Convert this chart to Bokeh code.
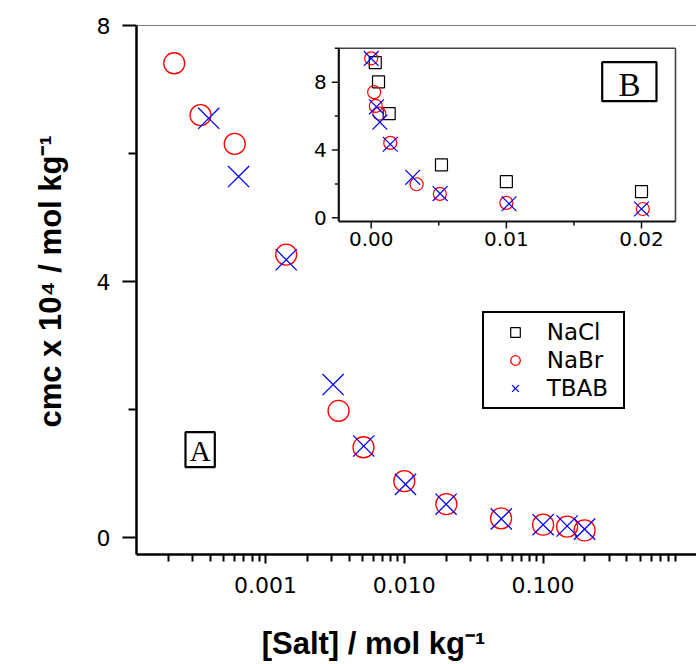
from bokeh.plotting import figure
from bokeh.models import (Range1d, LinearScale, FixedTicker, PrintfTickFormatter,
                          Span, Legend, LegendItem)
from bokeh.embed import file_html
from bokeh.resources import INLINE

# ---------------- data ----------------
nabr_x = [0.0, 0.00022, 0.00034, 0.00060, 0.00141, 0.00336, 0.00508, 0.0100, 0.0201, 0.0498, 0.100, 0.149, 0.199]
nabr_y = [9.41, 7.41, 6.60, 6.15, 4.42, 1.98, 1.41, 0.88, 0.52, 0.30, 0.20, 0.17, 0.11]

tbab_x = [0.0, 0.00039, 0.00064, 0.00141, 0.00307, 0.0051, 0.0102, 0.0200, 0.0500, 0.100, 0.149, 0.199]
tbab_y = [9.40, 6.55, 5.64, 4.34, 2.39, 1.43, 0.83, 0.52, 0.29, 0.20, 0.18, 0.13]

nacl_x = [0.0003, 0.00054, 0.00133, 0.0052, 0.0100, 0.0200]
nacl_y = [9.15, 8.02, 6.15, 3.12, 2.13, 1.55]

main_xticks = [0.001, 0.01, 0.1]
main_yticks = [0, 4, 8]
main_yminor = [2, 6]
inset_xticks = [0.0, 0.01, 0.02]
inset_xlabels = ["0.00", "0.01", "0.02"]
inset_xminor = [0.005, 0.015]
inset_yticks = [0, 4, 8]
inset_yminor = [2, 6, 10]

NB = "\u00a0"
x_title = "[Salt] / mol kg\u207b\u00b9" + NB * 10
y_title = NB * 2 + "cmc x 10\u2074 / mol kg\u207b\u00b9"

# ---------------- geometry (page pixels) ----------------
W, H = 696, 664
FL, FR, FT, FB = 136.0, 696.0, 25.0, 554.0      # main frame
DEC = 138.8                                     # px per decade
X001 = 265.0                                    # px of 0.001
Y0, PPU = 537.0, 64.0                           # y=0 px, px per unit

lx0 = -3 - (X001 - FL) / DEC
x_start = 10 ** lx0
x_end = 10 ** (lx0 + (FR - FL) / DEC)
y_start = -(FB - Y0) / PPU
y_end = (Y0 - FT) / PPU

# inset box
IL, IR, IT, IB = 338.3, 675.0, 47.7, 221.0
IX0, IPX = 370.7, 13515.0      # px of x=0, px per unit
IY0, IPY = 217.3, 16.95        # px of y=0, px per unit
ix_s = (FL - IX0) / IPX
ix_e = (FR - IX0) / IPX
iy_s = (IY0 - FB) / IPY
iy_e = (IY0 - FT) / IPY
in_l = (IL - IX0) / IPX
in_r = (IR - IX0) / IPX
in_t = (IY0 - IT) / IPY
in_b = (IY0 - IB) / IPY

p = figure(width=W, height=H, x_axis_type="log",
           x_range=Range1d(x_start, x_end), y_range=Range1d(y_start, y_end),
           output_backend="svg", toolbar_location=None,
           min_border_left=int(FL), min_border_right=0,
           min_border_top=int(FT), min_border_bottom=int(H - FB))
p.outline_line_color = None
p.xgrid.grid_line_color = None
p.ygrid.grid_line_color = None
p.background_fill_color = "white"
p.border_fill_color = "white"

p.extra_x_ranges = {"ix": Range1d(ix_s, ix_e), "px": Range1d(FL, FR)}
p.extra_x_scales = {"ix": LinearScale(), "px": LinearScale()}
p.extra_y_ranges = {"iy": Range1d(iy_s, iy_e), "py": Range1d(FB, FT)}

# main axes
p.xaxis.ticker = FixedTicker(ticks=main_xticks,
                             minor_ticks=[k * 10.0 ** e for e in range(-4, 1) for k in range(2, 10)])
p.xaxis.formatter = PrintfTickFormatter(format="%.3f")
p.yaxis.ticker = FixedTicker(ticks=main_yticks, minor_ticks=main_yminor)
for ax in (p.xaxis[0], p.yaxis[0]):
    ax.axis_line_width = 2.5
    ax.axis_line_color = "black"
    ax.major_tick_line_width = 2
    ax.minor_tick_line_width = 2
    ax.major_tick_line_color = "black"
    ax.minor_tick_line_color = "black"
    ax.major_tick_in = 0
    ax.minor_tick_in = 0
    ax.major_label_text_font = "DejaVu Sans"
    ax.major_label_text_color = "black"
    ax.axis_label_text_font = "Liberation Sans"
    ax.axis_label_text_font_style = "bold"
    ax.axis_label_text_color = "black"
    ax.axis_label_text_font_size = "31px"
p.xaxis.major_tick_out = 9
p.xaxis.minor_tick_out = 7
p.xaxis.major_label_standoff = 13
p.xaxis.major_label_text_font_size = "22px"
p.xaxis.axis_label = x_title
p.xaxis.axis_label_standoff = 30
p.yaxis.major_tick_out = 14
p.yaxis.minor_tick_out = 8
p.yaxis.major_label_standoff = 12
p.yaxis.major_label_text_font_size = "22px"
p.yaxis.axis_label = y_title
p.yaxis.axis_label_standoff = 26

p.add_layout(Span(location=y_end, dimension="width", line_color="black", line_width=1))

# main data (positive concentrations only on the log axis)
mb = [(x, y) for x, y in zip(nabr_x, nabr_y) if x > 0]
mt = [(x, y) for x, y in zip(tbab_x, tbab_y) if x > 0]
r_nabr = p.scatter([a for a, b in mb], [b for a, b in mb], marker="circle", size=21,
                   fill_color=None, line_color="#ff0000", line_width=1.3)
r_tbab = p.scatter([a for a, b in mt], [b for a, b in mt], marker="x", size=30,
                   line_color="#0000ff", line_width=1.3)

# ---------------- inset ----------------
kw = dict(x_range_name="ix", y_range_name="iy")
p.quad(left=[in_l], right=[in_r], top=[in_t], bottom=[in_b], fill_color="white",
       line_color=None, **kw)
dxp = 1.0 / IPX
dyp = 1.0 / IPY
p.segment(x0=[in_l, in_r], y0=[in_t, in_t], x1=[in_r, in_r], y1=[in_t, in_b],
          line_color="#444444", line_width=1.6, **kw)
p.segment(x0=[in_l, in_l], y0=[in_b, in_b], x1=[in_l, in_r], y1=[in_t, in_b],
          line_color="#111111", line_width=2.2, **kw)
p.segment(x0=[in_l - 7 * dxp] * len(inset_yticks), y0=inset_yticks,
          x1=[in_l] * len(inset_yticks), y1=inset_yticks, line_color="#111111", line_width=1.5, **kw)
p.segment(x0=[in_l - 4 * dxp] * len(inset_yminor), y0=inset_yminor,
          x1=[in_l] * len(inset_yminor), y1=inset_yminor, line_color="#111111", line_width=1.5, **kw)
p.segment(x0=inset_xticks, y0=[in_b - 7 * dyp] * len(inset_xticks),
          x1=inset_xticks, y1=[in_b] * len(inset_xticks), line_color="#111111", line_width=1.5, **kw)
p.segment(x0=inset_xminor, y0=[in_b - 4 * dyp] * len(inset_xminor),
          x1=inset_xminor, y1=[in_b] * len(inset_xminor), line_color="#111111", line_width=1.5, **kw)
p.text(x=[in_l] * len(inset_yticks), y=inset_yticks, text=[str(v) for v in inset_yticks],
       x_offset=-12, text_align="right", text_baseline="middle",
       text_font={"value": "DejaVu Sans"}, text_font_size="20px", text_color="black", **kw)
p.text(x=inset_xticks, y=[in_b] * len(inset_xticks), text=inset_xlabels,
       y_offset=10, text_align="center", text_baseline="top",
       text_font={"value": "DejaVu Sans"}, text_font_size="20px", text_color="black", **kw)
r_nacl = p.scatter(nacl_x, nacl_y, marker="square", size=12, fill_color=None,
                   line_color="black", line_width=1.2, **kw)
p.scatter(nabr_x[:9], nabr_y[:9], marker="circle", size=13, fill_color=None,
          line_color="#ff0000", line_width=1.2, **kw)
p.scatter(tbab_x[:8], tbab_y[:8], marker="x", size=21,
          line_color="#0000ff", line_width=1.2, **kw)

# ---------------- boxes A / B ----------------
pk = dict(x_range_name="px", y_range_name="py")
p.quad(left=[185.0, 601.7], right=[214.3, 656.0], top=[431.7, 61.7], bottom=[466.7, 100.7],
       fill_color=None, line_color="black", line_width=2.2, **pk)
p.text(x=[199.6], y=[450.5], text=["A"], text_align="center", text_baseline="alphabetic",
       text_font={"value": "Liberation Serif"}, text_font_size="29px", text_color="black", **pk)
p.text(x=[629.0], y=[84.5], text=["B"], text_align="center", text_baseline="alphabetic",
       text_font={"value": "Liberation Serif"}, text_font_size="33px", text_color="black", **pk)

# ---------------- legend ----------------
legend = Legend(items=[LegendItem(label="NaCl", renderers=[r_nacl]),
                       LegendItem(label="NaBr", renderers=[r_nabr]),
                       LegendItem(label="TBAB", renderers=[r_tbab])],
                location=(481.7 - FL, FB - 409.3), padding=6, spacing=2,
                glyph_width=50, glyph_height=24, label_height=24, label_width=70,
                label_standoff=7, margin=0, border_line_color="black", border_line_width=2,
                border_line_alpha=1.0,
                label_text_font="DejaVu Sans", label_text_font_size="23px",
                label_text_color="black", background_fill_alpha=1.0)
p.add_layout(legend)

open("out.html", "w").write(file_html(p, INLINE))
